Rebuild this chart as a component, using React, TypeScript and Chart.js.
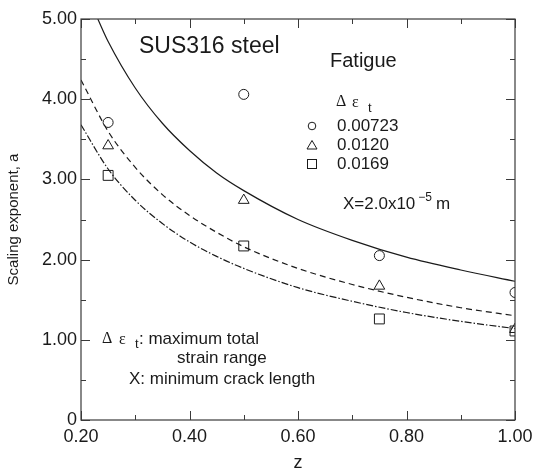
import React, { useEffect, useRef } from 'react';
import { Chart, registerables } from 'chart.js';

Chart.register(...registerables);

// ---- data ----
const zPoints = [0.25, 0.5, 0.75, 1.0];
const aCircle = [3.71, 4.06, 2.05, 1.59]; // Δεt = 0.00723
const aTriangle = [3.42, 2.74, 1.67, 1.13]; // Δεt = 0.0120
const aSquare = [3.05, 2.17, 1.26, 1.11]; // Δεt = 0.0169

const zSolid = [0.231, 0.25, 0.3, 0.35, 0.4, 0.45, 0.5, 0.6, 0.7, 0.8, 0.9, 1.0];
const aSolid = [5.0, 4.72, 4.14, 3.7, 3.36, 3.08, 2.86, 2.5, 2.24, 2.03, 1.87, 1.73];
const zCurve = [0.2, 0.25, 0.3, 0.35, 0.4, 0.45, 0.5, 0.6, 0.7, 0.8, 0.9, 1.0];
const aDashed = [4.24, 3.6, 3.15, 2.81, 2.55, 2.34, 2.16, 1.89, 1.69, 1.53, 1.4, 1.3];
const aDashDot = [3.68, 3.13, 2.74, 2.45, 2.22, 2.04, 1.89, 1.65, 1.48, 1.34, 1.23, 1.14];

const xTicks = [0.2, 0.4, 0.6, 0.8, 1.0];
const xMinorTicks = [0.3, 0.5, 0.7, 0.9];
const yTicks = [0, 1, 2, 3, 4, 5];
const yMinorTicks = [0.5, 1.5, 2.5, 3.5, 4.5];

const legendLabels = ['0.00723', '0.0120', '0.0169'];

const SANS = "'Liberation Sans', Arial, Helvetica, sans-serif";
const SERIF = "'Liberation Serif', 'Times New Roman', serif";
const INK = '#1a1a1a';
const AXIS = '#3a3a3a';

const pts = (xs: number[], ys: number[]) => xs.map((x, i) => ({ x, y: ys[i] }));

const framePlugin = {
  id: 'frameAndText',
  afterDraw(chart: any) {
    const { ctx, chartArea: ca, scales } = chart;
    const xs = scales.x;
    const ys = scales.y;
    ctx.save();
    // frame
    ctx.strokeStyle = AXIS;
    ctx.lineWidth = 1.2;
    ctx.strokeRect(ca.left, ca.top, ca.right - ca.left, ca.bottom - ca.top);
    // ticks (inward, all four sides)
    const tick = (x1: number, y1: number, x2: number, y2: number) => {
      ctx.beginPath();
      ctx.moveTo(x1, y1);
      ctx.lineTo(x2, y2);
      ctx.stroke();
    };
    ctx.lineWidth = 1;
    xTicks.forEach((v) => {
      const p = Math.round(xs.getPixelForValue(v)) + 0.5;
      tick(p, ca.bottom, p, ca.bottom - 9);
      tick(p, ca.top, p, ca.top + 9);
    });
    xMinorTicks.forEach((v) => {
      const p = Math.round(xs.getPixelForValue(v)) + 0.5;
      tick(p, ca.bottom, p, ca.bottom - 5);
      tick(p, ca.top, p, ca.top + 5);
    });
    yTicks.forEach((v) => {
      const p = Math.round(ys.getPixelForValue(v)) + 0.5;
      tick(ca.left, p, ca.left + 9, p);
      tick(ca.right, p, ca.right - 9, p);
    });
    yMinorTicks.forEach((v) => {
      const p = Math.round(ys.getPixelForValue(v)) + 0.5;
      tick(ca.left, p, ca.left + 5, p);
      tick(ca.right, p, ca.right - 5, p);
    });

    // text
    ctx.fillStyle = INK;
    ctx.textBaseline = 'middle';
    ctx.textAlign = 'left';
    const L = ca.left;
    const T = ca.top;
    const txt = (s: string, x: number, y: number, size: number, fam = SANS) => {
      ctx.font = `${size}px ${fam}`;
      ctx.fillText(s, L + x, T + y);
      return ctx.measureText(s).width;
    };

    txt('SUS316 steel', 58, 28, 23);
    txt('Fatigue', 249, 42, 20);

    // legend header Δ ε t
    txt('Δ', 255, 83, 16, SERIF);
    txt('ε', 271, 84, 16, SERIF);
    txt('t', 287, 89, 13);

    // legend symbols
    const symX = L + 231;
    const rowY = [T + 107, T + 126, T + 145];
    ctx.strokeStyle = INK;
    ctx.lineWidth = 1;
    ctx.beginPath();
    ctx.arc(symX, rowY[0], 3.8, 0, Math.PI * 2);
    ctx.stroke();
    ctx.beginPath();
    ctx.moveTo(symX, rowY[1] - 4.5);
    ctx.lineTo(symX + 5, rowY[1] + 4);
    ctx.lineTo(symX - 5, rowY[1] + 4);
    ctx.closePath();
    ctx.stroke();
    ctx.strokeRect(symX - 4.5, rowY[2] - 4.5, 9, 9);
    legendLabels.forEach((s, i) => txt(s, 256, rowY[i] - T, 17));

    // X = 2.0x10^-5 m
    const w = txt('X=2.0x10', 262, 185, 17);
    const w2 = txt('\u22125', 262 + w + 3, 179, 12);
    txt('m', 262 + w + 3 + w2 + 4, 185, 17);

    // bottom-left notes
    txt('Δ', 21, 320, 16, SERIF);
    txt('ε', 38, 321, 16, SERIF);
    txt('t', 54, 325, 13);
    txt(': maximum total', 58, 320, 17);
    txt('strain range', 96, 339, 17);
    txt('X: minimum crack length', 48, 360, 17);

    ctx.restore();
  },
};

export default function App() {
  const ref = useRef<HTMLCanvasElement | null>(null);

  useEffect(() => {
    document.body.style.margin = '0';
    const canvas = ref.current;
    if (!canvas) return;
    const lineBase = {
      showLine: true,
      pointRadius: 0,
      pointHoverRadius: 0,
      borderColor: INK,
      borderWidth: 1.2,
      cubicInterpolationMode: 'monotone' as const,
      fill: false,
    };
    const markerBase = {
      showLine: false,
      borderColor: INK,
      backgroundColor: 'rgba(0,0,0,0)',
      pointBorderWidth: 1,
    };
    const chart = new Chart(canvas, {
      type: 'scatter',
      data: {
        datasets: [
          { ...lineBase, label: 'fit 0.00723', data: pts(zSolid, aSolid) },
          { ...lineBase, label: 'fit 0.0120', data: pts(zCurve, aDashed), borderDash: [6, 4] },
          { ...lineBase, label: 'fit 0.0169', data: pts(zCurve, aDashDot), borderDash: [7, 2, 1.5, 2] },
          { ...markerBase, label: '0.00723', data: pts(zPoints, aCircle), pointStyle: 'circle', pointRadius: 5 },
          { ...markerBase, label: '0.0120', data: pts(zPoints, aTriangle), pointStyle: 'triangle', pointRadius: 6.2 },
          { ...markerBase, label: '0.0169', data: pts(zPoints, aSquare), pointStyle: 'rect', pointRadius: 7 },
        ],
      },
      options: {
        responsive: false,
        animation: false,
        events: [],
        layout: { padding: { left: 0, top: 19, right: 20, bottom: 0 } },
        plugins: { legend: { display: false }, tooltip: { enabled: false } },
        scales: {
          x: {
            type: 'linear',
            position: 'bottom',
            min: 0.2,
            max: 1.0,
            grid: { display: false, drawTicks: false },
            border: { display: false },
            afterBuildTicks: (s: any) => {
              s.ticks = xTicks.map((v) => ({ value: v }));
            },
            afterFit: (s: any) => {
              s.height = 54;
              s.paddingLeft = 0;
              s.paddingRight = 0;
            },
            ticks: {
              padding: 6,
              color: INK,
              font: { family: SANS, size: 18 },
              callback: (v: any) => Number(v).toFixed(2),
            },
            title: {
              display: true,
              text: 'z',
              color: INK,
              font: { family: SANS, size: 18 },
              padding: { top: 0, bottom: 0 },
            },
          },
          y: {
            type: 'linear',
            min: 0,
            max: 5,
            grid: { display: false, drawTicks: false },
            border: { display: false },
            afterBuildTicks: (s: any) => {
              s.ticks = yTicks.map((v) => ({ value: v }));
            },
            afterFit: (s: any) => {
              s.width = 81;
              s.paddingTop = 0;
              s.paddingBottom = 0;
            },
            ticks: {
              padding: 4,
              color: INK,
              font: { family: SANS, size: 18 },
              callback: (v: any) => (Number(v) === 0 ? '0' : Number(v).toFixed(2)),
            },
            title: {
              display: true,
              text: 'Scaling exponent, a',
              color: INK,
              font: { family: SANS, size: 15 },
              padding: { top: 5, bottom: 0 },
            },
          },
        },
      },
      plugins: [framePlugin],
    });
    return () => chart.destroy();
  }, []);

  return (
    <div style={{ position: 'absolute', left: 0, top: 0, width: 535, height: 474, background: '#fff' }}>
      <canvas ref={ref} width={535} height={474} style={{ width: 535, height: 474, display: 'block' }} />
    </div>
  );
}
